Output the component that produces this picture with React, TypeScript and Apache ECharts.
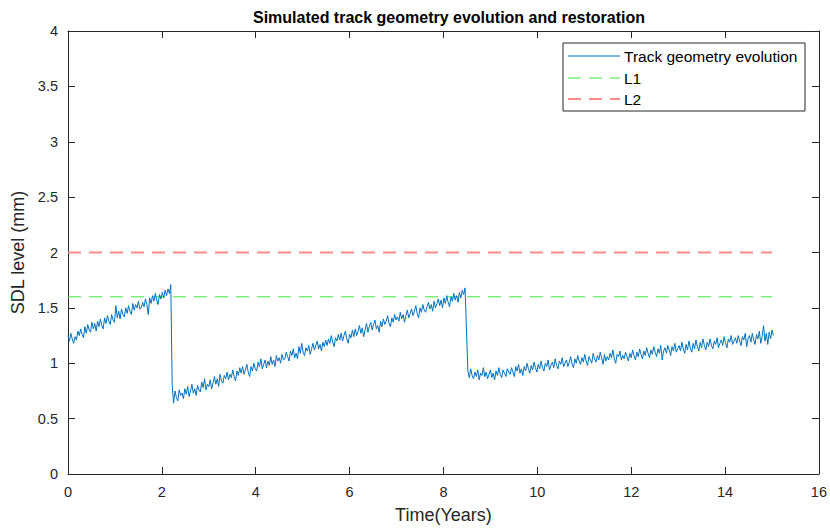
import React, { useEffect, useRef } from "react";
import * as echarts from "echarts";

// Sampling of the simulated SDL signal (years between samples)
const sampleStep = 0.03;

// Start time of each maintenance cycle (years)
const cycleStart = [0, 2.22, 8.52];

// SDL level (mm) for cycle 1: degradation from new track until first tamping
const cycle1 = [
  1.25, 1.2, 1.27, 1.22, 1.18, 1.24, 1.21, 1.29, 1.25, 1.31,
  1.26, 1.23, 1.33, 1.27, 1.35, 1.3, 1.28, 1.37, 1.31, 1.36,
  1.29, 1.38, 1.33, 1.4, 1.34, 1.31, 1.41, 1.36, 1.43, 1.38,
  1.35, 1.44, 1.39, 1.37, 1.52, 1.41, 1.47, 1.4, 1.49, 1.44,
  1.42, 1.5, 1.45, 1.52, 1.47, 1.44, 1.54, 1.48, 1.53, 1.5,
  1.56, 1.49, 1.5, 1.55, 1.51, 1.58, 1.53, 1.44, 1.59, 1.54,
  1.61, 1.56, 1.63, 1.57, 1.53, 1.62, 1.58, 1.64, 1.59, 1.66,
  1.61, 1.67, 1.63, 1.71,
];

// SDL level (mm) for cycle 2: after first restoration
const cycle2 = [
  0.8, 0.64, 0.75, 0.69, 0.66, 0.76, 0.71, 0.73, 0.68, 0.77,
  0.72, 0.79, 0.7, 0.75, 0.81, 0.73, 0.77, 0.71, 0.8, 0.76,
  0.74, 0.83, 0.78, 0.86, 0.76, 0.81, 0.79, 0.85, 0.77, 0.82,
  0.88, 0.81, 0.86, 0.79, 0.9, 0.84, 0.82, 0.89, 0.86, 0.92,
  0.85, 0.9, 0.87, 0.94, 0.88, 0.84, 0.93, 0.89, 0.96, 0.91,
  0.97, 0.9, 0.94, 0.99, 0.92, 0.88, 0.97, 0.93, 1.0, 0.95,
  0.93, 1.01, 0.97, 1.04, 0.95, 0.99, 1.03, 0.96, 1.02, 0.98,
  1.06, 0.99, 1.03, 0.97, 1.07, 1.02, 1.05, 1.0, 1.08, 1.03,
  1.04, 1.1, 1.06, 1.02, 1.11, 1.07, 1.13, 1.05, 1.09, 1.04,
  1.15, 1.09, 1.18, 1.1, 1.07, 1.14, 1.11, 1.16, 1.08, 1.13,
  1.18, 1.12, 1.16, 1.2, 1.13, 1.17, 1.11, 1.19, 1.15, 1.21,
  1.16, 1.22, 1.18, 1.25, 1.19, 1.15, 1.23, 1.2, 1.26, 1.21,
  1.27, 1.2, 1.25, 1.29, 1.22, 1.18, 1.26, 1.23, 1.3, 1.24,
  1.31, 1.25, 1.29, 1.34, 1.27, 1.32, 1.24, 1.3, 1.36, 1.28,
  1.33, 1.37, 1.3, 1.35, 1.39, 1.31, 1.34, 1.28, 1.38, 1.33,
  1.4, 1.35, 1.38, 1.43, 1.36, 1.33, 1.41, 1.37, 1.44, 1.39,
  1.42, 1.38, 1.46, 1.4, 1.44, 1.37, 1.43, 1.48, 1.41, 1.45,
  1.49, 1.43, 1.47, 1.52, 1.45, 1.41, 1.5, 1.46, 1.53, 1.48,
  1.46, 1.51, 1.55, 1.49, 1.53, 1.47, 1.56, 1.5, 1.54, 1.58,
  1.52, 1.57, 1.5, 1.59, 1.54, 1.61, 1.55, 1.51, 1.6, 1.56,
  1.63, 1.57, 1.61, 1.55, 1.64, 1.59, 1.66, 1.62, 1.68,
];

// SDL level (mm) for cycle 3: after second restoration
const cycle3 = [
  0.93, 0.87, 0.95, 0.89, 0.86, 0.92, 0.88, 0.94, 0.85, 0.91,
  0.89, 0.96, 0.88, 0.92, 0.86, 0.9, 0.94, 0.87, 0.91, 0.85,
  0.93, 0.89, 0.96, 0.9, 0.87, 0.94, 0.91, 0.88, 0.95, 0.92,
  0.9, 0.96, 0.92, 0.88, 0.97, 0.93, 0.99, 0.91, 0.95, 0.89,
  0.97, 0.93, 1.0, 0.95, 0.91, 0.98, 0.94, 1.01, 0.96, 0.92,
  0.99, 0.95, 1.02, 0.96, 0.93, 1.0, 0.97, 1.03, 0.94, 0.98,
  1.01, 0.96, 1.04, 0.98, 0.95, 1.02, 0.99, 1.05, 0.97, 1.0,
  1.03, 0.97, 1.01, 1.06, 0.99, 0.96, 1.04, 1.0, 1.07, 1.02,
  0.99, 1.05, 1.01, 1.08, 1.02, 0.98, 1.06, 1.03, 1.0, 1.09,
  1.04, 1.01, 1.07, 1.03, 1.1, 1.05, 0.99, 1.08, 1.02, 1.06,
  1.03, 1.09, 1.05, 1.12, 1.04, 1.0, 1.08, 1.06, 1.11, 1.03,
  1.07, 1.04, 1.1, 1.06, 1.02, 1.09, 1.05, 1.12, 1.07, 1.03,
  1.1, 1.06, 1.13, 1.08, 1.04, 1.11, 1.07, 1.14, 1.09, 1.05,
  1.12, 1.08, 1.15, 1.1, 1.06, 1.13, 1.09, 1.16, 1.03, 1.11,
  1.14, 1.09, 1.16, 1.12, 1.07, 1.15, 1.11, 1.18, 1.1, 1.13,
  1.16, 1.11, 1.19, 1.13, 1.09, 1.17, 1.12, 1.2, 1.14, 1.1,
  1.18, 1.13, 1.21, 1.15, 1.11, 1.19, 1.14, 1.22, 1.16, 1.12,
  1.19, 1.15, 1.22, 1.16, 1.13, 1.2, 1.17, 1.23, 1.14, 1.18,
  1.21, 1.16, 1.24, 1.18, 1.14, 1.22, 1.19, 1.25, 1.17, 1.2,
  1.23, 1.18, 1.25, 1.2, 1.16, 1.24, 1.21, 1.27, 1.15, 1.22,
  1.25, 1.19, 1.27, 1.21, 1.17, 1.26, 1.22, 1.29, 1.18, 1.24,
  1.34, 1.2, 1.27, 1.17, 1.28, 1.22, 1.3, 1.25,
];

// Maintenance thresholds (mm) and the time span they are drawn over
const thresholdL1 = 1.6;
const thresholdL2 = 2.0;
const thresholdSpan = [0, 15];

// Axis ranges
const xRange = { min: 0, max: 16, interval: 2 };
const yRange = { min: 0, max: 4, interval: 0.5 };

const FONT = "'Liberation Sans', Arial, Helvetica, sans-serif";
const AXIS_COLOR = "#262626";
const BLUE = "#0072BD";
const GREEN = "#3ee63e";
const RED = "#ff8a8a";

function buildSeriesData(): [number, number][] {
  const cycles = [cycle1, cycle2, cycle3];
  const out: [number, number][] = [];
  cycles.forEach((values, c) => {
    values.forEach((v, i) => {
      out.push([+(cycleStart[c] + i * sampleStep).toFixed(3), v]);
    });
  });
  return out;
}

export default function App() {
  const ref = useRef<HTMLDivElement>(null);

  useEffect(() => {
    if (!ref.current) return;
    const chart = echarts.init(ref.current, undefined, { renderer: "svg" });

    const gridLeft = 68;
    const gridRight = 10;
    const gridTop = 31;
    const gridBottom = 57;

    const tickStyle = {
      show: true,
      inside: true,
      length: 7,
      lineStyle: { color: AXIS_COLOR, width: 1 },
    };
    const axisLineStyle = {
      show: true,
      onZero: false,
      lineStyle: { color: AXIS_COLOR, width: 1 },
    };

    // Legend box in the upper right corner
    const lgX = 563;
    const lgY = 43;
    const lgW = 242;
    const lgH = 68;
    const rowY = [56, 78, 99];
    const lineX0 = 568;
    const lineX1 = 620;
    const textX = 624;
    const legendText = (y: number, text: string) => ({
      type: "text",
      x: textX,
      y,
      style: {
        text,
        fill: "#000",
        font: `15.5px ${FONT}`,
        textVerticalAlign: "middle",
        textAlign: "left",
      },
      z: 20,
    });

    chart.setOption({
      animation: false,
      backgroundColor: "#fff",
      title: {
        text: "Simulated track geometry evolution and restoration",
        left: (gridLeft + 830 - gridRight) / 2,
        top: 4,
        textAlign: "center",
        textStyle: {
          fontFamily: FONT,
          fontWeight: "bold",
          fontSize: 16,
          color: "#000",
        },
      },
      grid: {
        left: gridLeft,
        right: gridRight,
        top: gridTop,
        bottom: gridBottom,
        containLabel: false,
      },
      xAxis: [
        {
          type: "value",
          ...xRange,
          position: "bottom",
          name: "Time(Years)",
          nameLocation: "middle",
          nameGap: 32,
          nameTextStyle: { fontFamily: FONT, fontSize: 18, color: AXIS_COLOR },
          axisLine: axisLineStyle,
          axisTick: tickStyle,
          axisLabel: {
            fontFamily: FONT,
            fontSize: 14.5,
            color: AXIS_COLOR,
            margin: 10,
          },
          splitLine: { show: false },
        },
        {
          type: "value",
          ...xRange,
          position: "top",
          axisLine: axisLineStyle,
          axisTick: tickStyle,
          axisLabel: { show: false },
          splitLine: { show: false },
        },
      ],
      yAxis: [
        {
          type: "value",
          ...yRange,
          position: "left",
          name: "SDL level (mm)",
          nameLocation: "middle",
          nameGap: 39,
          nameTextStyle: { fontFamily: FONT, fontSize: 18, color: AXIS_COLOR },
          axisLine: axisLineStyle,
          axisTick: tickStyle,
          axisLabel: {
            fontFamily: FONT,
            fontSize: 14.5,
            color: AXIS_COLOR,
            margin: 10,
          },
          splitLine: { show: false },
        },
        {
          type: "value",
          ...yRange,
          position: "right",
          axisLine: axisLineStyle,
          axisTick: tickStyle,
          axisLabel: { show: false },
          splitLine: { show: false },
        },
      ],
      series: [
        {
          name: "Track geometry evolution",
          type: "line",
          data: buildSeriesData(),
          showSymbol: false,
          symbol: "none",
          lineStyle: { color: BLUE, width: 1 },
          z: 5,
        },
        {
          name: "L1",
          type: "line",
          data: thresholdSpan.map((t) => [t, thresholdL1]),
          showSymbol: false,
          symbol: "none",
          lineStyle: { color: GREEN, width: 1, type: [13, 8] },
          z: 3,
        },
        {
          name: "L2",
          type: "line",
          data: thresholdSpan.map((t) => [t, thresholdL2]),
          showSymbol: false,
          symbol: "none",
          lineStyle: { color: RED, width: 2, type: [13, 8] },
          z: 3,
        },
      ],
      graphic: [
        {
          type: "rect",
          shape: { x: lgX, y: lgY, width: lgW, height: lgH },
          style: { fill: "#fff", stroke: AXIS_COLOR, lineWidth: 1 },
          z: 10,
        },
        {
          type: "line",
          shape: { x1: lineX0, y1: rowY[0], x2: lineX1, y2: rowY[0] },
          style: { stroke: BLUE, lineWidth: 1 },
          z: 20,
        },
        {
          type: "line",
          shape: { x1: lineX0, y1: rowY[1], x2: lineX1, y2: rowY[1] },
          style: { stroke: GREEN, lineWidth: 1, lineDash: [13, 8] },
          z: 20,
        },
        {
          type: "line",
          shape: { x1: lineX0, y1: rowY[2], x2: lineX1, y2: rowY[2] },
          style: { stroke: RED, lineWidth: 2, lineDash: [13, 8] },
          z: 20,
        },
        legendText(rowY[0], "Track geometry evolution"),
        legendText(rowY[1], "L1"),
        legendText(rowY[2], "L2"),
      ],
    });

    return () => chart.dispose();
  }, []);

  return (
    <div
      ref={ref}
      style={{ position: "fixed", left: 0, top: 0, width: 830, height: 531 }}
    />
  );
}
